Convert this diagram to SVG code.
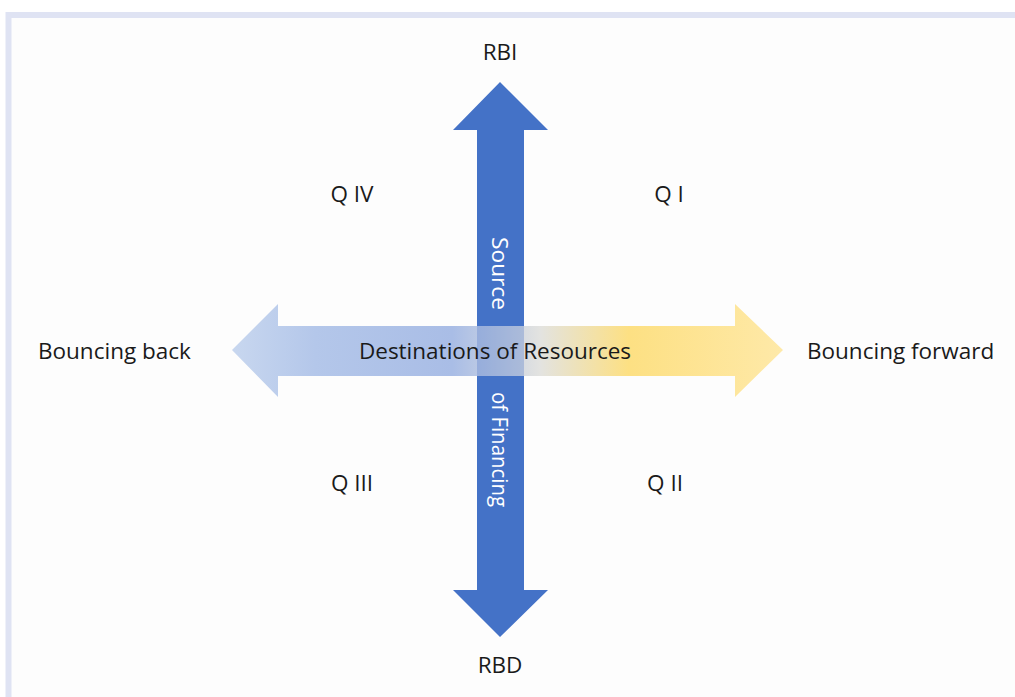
<svg xmlns="http://www.w3.org/2000/svg" width="1015" height="697" viewBox="0 0 1015 697">
<style>
.t{font-family:"Open Sans","Noto Sans","Liberation Sans",sans-serif;font-size:22.5px;fill:#1a1a1a}
.w{font-family:"Open Sans","Noto Sans","Liberation Sans",sans-serif;font-size:21.5px;fill:#ffffff}
</style>
<defs>
<linearGradient id="hg" x1="232" y1="0" x2="783" y2="0" gradientUnits="userSpaceOnUse">
<stop offset="0" stop-color="#c8d7ef"/>
<stop offset="0.15" stop-color="#b4c7ea"/>
<stop offset="0.4" stop-color="#a9bde6"/>
<stop offset="0.56" stop-color="#e3e3e0"/>
<stop offset="0.72" stop-color="#fde083"/>
<stop offset="1" stop-color="#fee9a8"/>
</linearGradient>
</defs>
<rect x="0" y="0" width="1015" height="697" fill="#ffffff"/>
<rect x="8.5" y="15" width="1030" height="700" fill="#fdfdfd" stroke="#dfe3f3" stroke-width="6"/>
<g id="connectors">
<g id="vertical-arrow">
<polygon points="500,82 548,130 524,130 524,590 548,590 500,637 453,590 477,590 477,130 453,130" fill="#4472c7"/>
</g>
<g id="horizontal-arrow">
<polygon points="232,350 278,304 278,326 735,326 735,304 783,350 735,397 735,376 278,376 278,397" fill="url(#hg)"/>
<rect x="477" y="326" width="47" height="50" fill="#4472c7" opacity="0.3"/>
</g>
</g>
<g id="axis-labels">
<text class="w" transform="translate(492,237) rotate(90)" textLength="73" lengthAdjust="spacingAndGlyphs">Source</text>
<text class="w" transform="translate(492,392) rotate(90)" textLength="115" lengthAdjust="spacingAndGlyphs">of Financing</text>
<text class="t" x="495" y="359" text-anchor="middle">Destinations of Resources</text>
</g>
<g id="rbi"><text class="t" x="500" y="60" text-anchor="middle">RBI</text></g>
<g id="rbd"><text class="t" x="500" y="673" text-anchor="middle">RBD</text></g>
<g id="bouncing-back"><text class="t" x="38" y="359">Bouncing back</text></g>
<g id="bouncing-forward"><text class="t" x="807" y="359">Bouncing forward</text></g>
<g id="q4"><text class="t" x="352" y="202" text-anchor="middle">Q IV</text></g>
<g id="q1"><text class="t" x="669" y="202" text-anchor="middle">Q I</text></g>
<g id="q3"><text class="t" x="352" y="491" text-anchor="middle">Q III</text></g>
<g id="q2"><text class="t" x="665" y="491" text-anchor="middle">Q II</text></g>
</svg>
